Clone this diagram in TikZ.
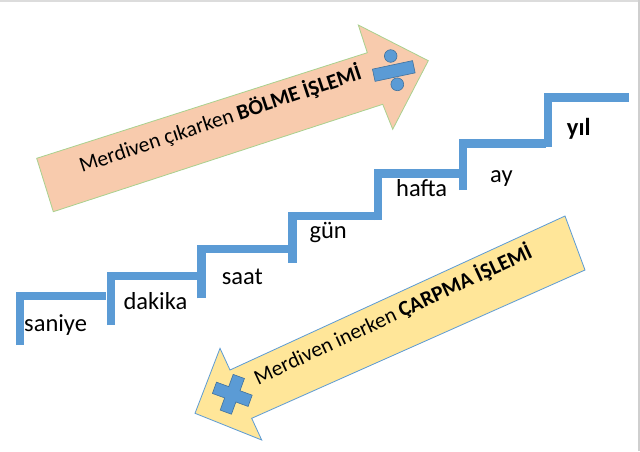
\documentclass[tikz,border=0pt]{standalone}
\usepackage{fontspec}
\setmainfont{Carlito}
\definecolor{stairblue}{HTML}{5B9BD5}
\definecolor{symedge}{HTML}{41719C}
\definecolor{peach}{HTML}{F8CBAD}
\definecolor{peachedge}{HTML}{A9D18E}
\definecolor{lightyellow}{HTML}{FFE699}
\definecolor{yellowedge}{HTML}{5B9BD5}
\definecolor{framegrey}{HTML}{DCDCDC}
\definecolor{framegreyB}{HTML}{CFCFCF}
\begin{document}
\begin{tikzpicture}[x=1pt,y=-1pt,
  stair/.style={draw=stairblue, line width=8.3pt, line cap=butt, line join=miter},
  lbl/.style={inner sep=0pt, font=\fontsize{24.5}{29}\selectfont, text=black},
  arrowtxt/.style={inner sep=0pt, font=\fontsize{21.5}{26}\selectfont, text=black},
  uparrow/.style={fill=peach, draw=peachedge, line width=0.8pt, line join=miter},
  downarrow/.style={fill=lightyellow, draw=yellowedge, line width=0.8pt, line join=miter},
  opsymbol/.style={fill=stairblue, draw=symedge, line width=0.6pt}]
\useasboundingbox (0,0) rectangle (640,451);
\fill[white] (0,0) rectangle (640,451);
\fill[framegrey] (0,0) rectangle (640,2);
\fill[framegreyB] (638,0) rectangle (640,451);

% stairs
\foreach \xl/\yt/\yb/\xr in {16/291.7/345/106, 106.7/271.7/325/196.7, 197.3/245/298.3/287.5,
  288.3/211.7/262.7/378, 374/169.3/220/462, 459/139.3/190/546, 544/93.3/146.7/629.3}
  \draw[stair] (\xl+4.15,\yb) -- (\xl+4.15,\yt+4.15) -- (\xr,\yt+4.15);

% stair labels
\node[lbl, anchor=base west] (saniye) at (24,331.7) {saniye};
\node[lbl, anchor=base west] (dakika) at (123.3,309) {dakika};
\node[lbl, anchor=base west] (saat) at (221.7,284.3) {saat};
\node[lbl, anchor=base west] (gun) at (309.3,238.3) {gün};
\node[lbl, anchor=base west] (hafta) at (396,196) {hafta};
\node[lbl, anchor=base west] (ay) at (490,182.7) {ay};
\node[lbl, anchor=base west, font=\fontsize{24.5}{29}\selectfont\bfseries] (yil) at (566.7,135) {yıl};

% upper arrow
\draw[uparrow] (36.7,158.3) -- (367.3,52.7) -- (358.3,25) -- (428.3,60.7) -- (392.7,129.3)
  -- (382.7,104.3) -- (53.3,211.7) -- cycle;
\node[arrowtxt, anchor=base, rotate=18.5] (boltxt) at (222.4,125.9)
  {Merdiven çıkarken \textbf{BÖLME İŞLEMİ}};
% division sign
\begin{scope}[shift={(393.8,71)}, rotate=12]
  \draw[opsymbol] (-20.5,-6.25) rectangle (20.5,6.25);
\end{scope}
\draw[opsymbol] (390.7,56) circle[radius=6.3];
\draw[opsymbol] (397.3,84.3) circle[radius=6.4];

% lower arrow
\draw[downarrow] (565,216) -- (585,270) -- (251.7,418.3) -- (261.7,440) -- (195,413.3)
  -- (220,348.3) -- (230,370) -- cycle;
\node[arrowtxt, anchor=base, rotate=25] (carptxt) at (395.8,320.9)
  {Merdiven inerken \textbf{ÇARPMA İŞLEMİ}};
% multiplication sign
\begin{scope}[shift={(232.3,394.3)}, rotate=-20]
  \draw[opsymbol] (-6,-19) -- (6,-19) -- (6,-6) -- (19,-6) -- (19,6) -- (6,6) -- (6,19)
    -- (-6,19) -- (-6,6) -- (-19,6) -- (-19,-6) -- (-6,-6) -- cycle;
\end{scope}
\end{tikzpicture}
\end{document}
